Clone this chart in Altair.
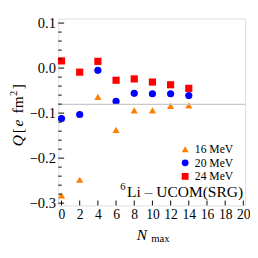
import altair as alt
import pandas as pd

# ---- data ----
nmax = [0, 2, 4, 6, 8, 10, 12, 14]
q16 = [-0.283, -0.248, -0.064, -0.137, -0.094, -0.094, -0.084, -0.083]
q20 = [-0.112, -0.103, -0.005, -0.074, -0.056, -0.057, -0.057, -0.061]
q24 = [0.016, -0.009, 0.015, -0.027, -0.024, -0.031, -0.037, -0.045]
series = ["16 MeV", "20 MeV", "24 MeV"]
colors = ["#FF8000", "#0000FF", "#FF0000"]
shapes = ["triangle-up", "circle", "square"]
q_exp = -0.0806
x_ticks = [0, 2, 4, 6, 8, 10, 12, 14, 16, 18, 20]
y_ticks = [-0.3, -0.2, -0.1, 0.0, 0.1]
y_minor = [-0.28, -0.26, -0.24, -0.22, -0.18, -0.16, -0.14, -0.12,
           -0.08, -0.06, -0.04, -0.02, 0.02, 0.04, 0.06, 0.08]

rows = []
for s, vals in zip(series, [q16, q20, q24]):
    for n, v in zip(nmax, vals):
        rows.append({"nmax": n, "q": v, "E": s})
df = pd.DataFrame(rows)

W, H = 193, 193
FONT = "Liberation Serif"
xscale = alt.Scale(domain=[-0.35, 20.2], nice=False, zero=False)
yscale = alt.Scale(domain=[-0.305, 0.11], nice=False, zero=False)

xaxis = alt.Axis(values=x_ticks, title=None, ticks=False, domain=False,
                 grid=False, labelFont=FONT, labelFontSize=14,
                 labelPadding=3, labelColor="black",
                 labelOverlap=False, labelFlush=False, labelBound=False)
yaxis = alt.Axis(values=y_ticks, format=".1f", title=None, ticks=False,
                 domain=False, grid=False, labelFont=FONT, labelFontSize=15,
                 labelPadding=3, labelColor="black",
                 labelOverlap=False, labelFlush=False, labelBound=False)

points = alt.Chart(df).mark_point(filled=True, size=55, opacity=1).encode(
    x=alt.X("nmax:Q", scale=xscale, axis=xaxis),
    y=alt.Y("q:Q", scale=yscale, axis=yaxis),
    color=alt.Color("E:N", scale=alt.Scale(domain=series, range=colors),
                    legend=alt.Legend(title=None, orient="none", legendX=125, legendY=129,
                                      labelFont=FONT, labelFontSize=12, labelOffset=4,
                                      rowPadding=2, padding=0, symbolSize=50,
                                      labelColor="black")),
    shape=alt.Shape("E:N", scale=alt.Scale(domain=series, range=shapes)),
)

exp_line = alt.Chart(pd.DataFrame({"q": [q_exp]})).mark_rule(
    color="#C8C8C8", strokeWidth=1.5).encode(y=alt.Y("q:Q", scale=yscale, axis=yaxis))

ytick_major = alt.Chart(pd.DataFrame({"q": y_ticks})).mark_rule(
    color="black", strokeWidth=1).encode(
    y=alt.Y("q:Q", scale=yscale, axis=yaxis), x=alt.value(0), x2=alt.value(6))
ytick_minor = alt.Chart(pd.DataFrame({"q": y_minor})).mark_rule(
    color="black", strokeWidth=1).encode(
    y=alt.Y("q:Q", scale=yscale, axis=yaxis), x=alt.value(0), x2=alt.value(3.5))
xtick_major = alt.Chart(pd.DataFrame({"nmax": x_ticks})).mark_rule(
    color="black", strokeWidth=1).encode(
    x=alt.X("nmax:Q", scale=xscale, axis=xaxis), y=alt.value(H), y2=alt.value(H - 5))


def txt(s, x, y, size, style="normal", angle=0, align="left"):
    return alt.Chart(pd.DataFrame({"t": [s]})).mark_text(
        font=FONT, fontSize=size, fontStyle=style, angle=angle, align=align,
        baseline="alphabetic", color="black").encode(
        text="t:N", x=alt.value(x), y=alt.value(y))


YT = -37
labels = [
    txt("N", 81, 229, 16, "italic"),
    txt("max", 96, 230.5, 11),
    txt("Q", YT, 132, 16, "italic", 270),
    txt("[", YT, 118.5, 16, "normal", 270),
    txt("e", YT, 111.5, 16, "italic", 270),
    txt("fm", YT, 98, 16, "normal", 270),
    txt("2", YT - 6, 80, 11, "normal", 270),
    txt("]", YT, 73, 16, "normal", 270),
    txt("6", 64, 177, 11),
    txt("Li – UCOM(SRG)", 71, 184.5, 16),
]

chart = alt.layer(points, exp_line, ytick_major, ytick_minor, xtick_major, *labels).properties(
    width=W, height=H,
    autosize=alt.AutoSizeParams(type="none"),
    padding={"left": 52, "top": 7, "right": 5, "bottom": 38},
).configure_view(stroke="#333333", strokeWidth=1.2).configure_axis(
    labelOverlap=False, labelFlush=False
).configure(background="white")

chart.save("out.html", embed_options={"renderer": "svg", "actions": False})
